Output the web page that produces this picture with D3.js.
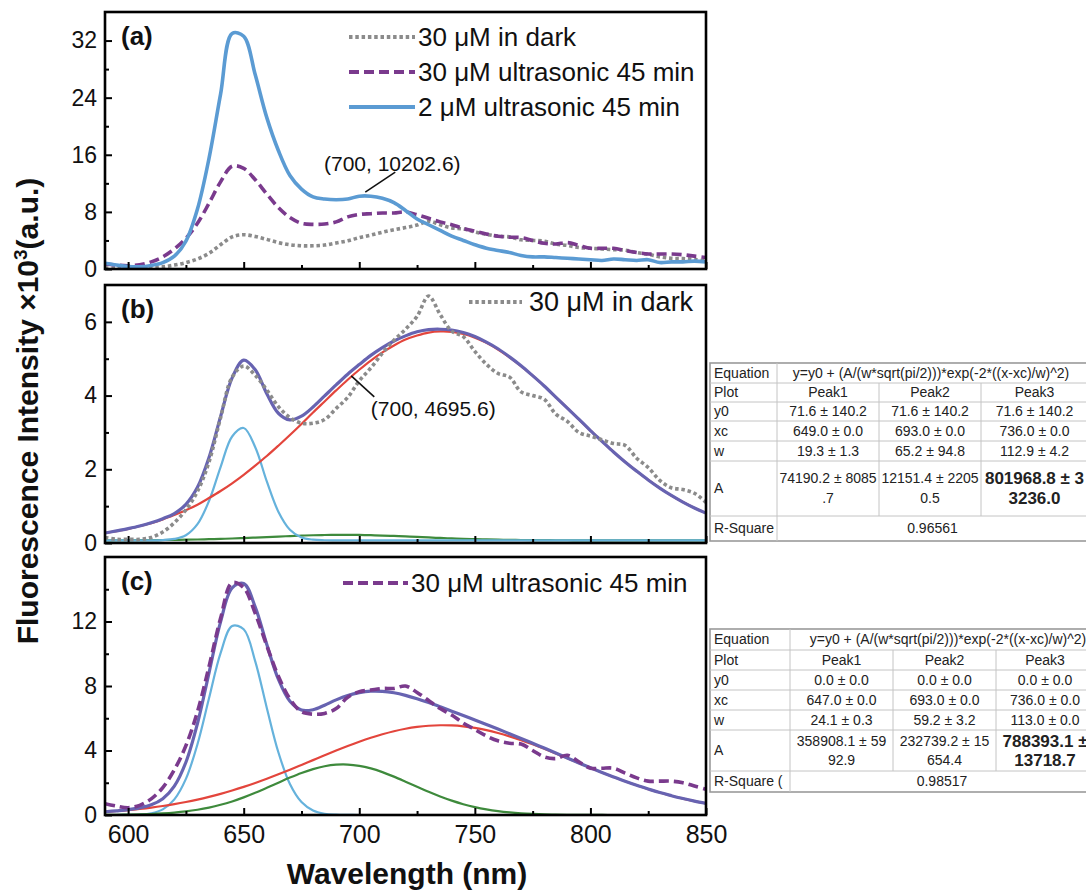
<!DOCTYPE html>
<html><head><meta charset="utf-8">
<script src="https://cdn.jsdelivr.net/npm/d3@7"></script>
<style>
body{margin:0;background:#fff;}
svg{display:block;font-family:"Liberation Sans",Arial,Helvetica,sans-serif;}
</style></head><body>
<svg id="chart" width="1086" height="892"></svg>
<script>
// ---------------- DATA ----------------
const wl = [590,595,600,605,610,615,620,625,630,635,640,645,650,655,660,665,670,675,680,685,690,695,700,705,710,715,720,725,730,735,740,745,750,755,760,765,770,775,780,785,790,795,800,805,810,815,820,825,830,835,840,845,850];

// measured spectra (x10^3 a.u.)
const dark30 = [0.15,0.10,0.10,0.10,0.15,0.30,0.55,0.90,1.40,2.20,3.40,4.50,4.80,4.55,4.15,3.70,3.40,3.25,3.25,3.35,3.65,3.95,4.40,4.75,5.15,5.50,5.80,6.15,6.70,6.20,5.75,5.60,5.20,4.85,4.60,4.50,4.10,4.00,3.90,3.50,3.30,3.00,2.90,2.80,2.70,2.65,2.30,2.05,1.70,1.50,1.45,1.35,1.10];
const ultra30 = [0.70,0.55,0.45,0.60,1.00,1.70,2.80,4.30,6.40,9.20,12.20,14.40,14.10,12.50,10.50,8.60,7.20,6.40,6.25,6.30,6.60,7.30,7.65,7.75,7.85,7.85,8.00,7.60,7.10,6.60,6.20,5.70,5.30,4.90,4.60,4.45,4.40,4.00,3.60,3.50,3.70,3.30,2.90,2.90,2.90,2.60,2.30,2.10,2.10,2.10,2.00,1.80,1.60];
const ultra2 = [0.80,0.55,0.35,0.30,0.50,0.90,1.80,3.90,8.40,15.50,24.50,33.00,32.60,27.20,21.20,16.60,13.10,11.20,10.10,9.80,9.70,9.80,10.20,10.20,9.90,9.30,8.20,7.00,6.20,5.40,4.60,4.00,3.40,2.90,2.60,2.30,1.90,1.70,1.70,1.60,1.50,1.40,1.30,1.20,1.40,1.30,1.20,1.30,0.90,1.00,1.00,1.10,1.00];

// fitted curves
const fitB_cum = [0.27,0.33,0.39,0.46,0.55,0.66,0.80,1.05,1.51,2.32,3.43,4.48,4.96,4.70,4.05,3.52,3.34,3.44,3.69,3.99,4.29,4.58,4.84,5.09,5.30,5.48,5.62,5.73,5.79,5.80,5.78,5.71,5.60,5.45,5.27,5.05,4.81,4.54,4.26,3.96,3.66,3.36,3.05,2.76,2.47,2.20,1.95,1.71,1.49,1.29,1.11,0.95,0.81];
const fitB_p1 = [0.07,0.07,0.07,0.07,0.07,0.08,0.11,0.21,0.51,1.14,2.06,2.89,3.12,2.60,1.67,0.85,0.36,0.15,0.09,0.075,0.07,0.07,0.07,0.07,0.07,0.07,0.07,0.07,0.07,0.07,0.07,0.07,0.07,0.07,0.07,0.07,0.07,0.07,0.07,0.07,0.07,0.07,0.07,0.07,0.07,0.07,0.07,0.07,0.07,0.07,0.07,0.07,0.07];
const fitB_p2 = [0.073,0.074,0.075,0.076,0.078,0.081,0.084,0.089,0.095,0.103,0.112,0.122,0.134,0.148,0.161,0.175,0.188,0.200,0.210,0.217,0.220,0.221,0.218,0.211,0.202,0.191,0.178,0.164,0.150,0.137,0.125,0.114,0.104,0.096,0.090,0.085,0.081,0.078,0.076,0.075,0.074,0.073,0.072,0.072,0.072,0.072,0.072,0.072,0.072,0.072,0.072,0.072,0.072];
const fitB_p3 = [0.27,0.32,0.38,0.46,0.54,0.64,0.76,0.89,1.04,1.22,1.41,1.62,1.85,2.10,2.36,2.64,2.93,3.23,3.54,3.84,4.14,4.43,4.70,4.95,5.17,5.36,5.52,5.63,5.71,5.74,5.73,5.67,5.57,5.43,5.25,5.04,4.80,4.54,4.26,3.96,3.66,3.35,3.05,2.76,2.47,2.20,1.95,1.71,1.49,1.29,1.11,0.95,0.81];

// fitted curves
const fitC_cum = [0.20,0.26,0.33,0.44,0.63,1.01,1.79,3.27,5.67,8.82,11.98,14.08,14.36,12.90,10.57,8.42,7.05,6.51,6.53,6.81,7.14,7.41,7.59,7.68,7.67,7.58,7.42,7.21,6.97,6.71,6.44,6.17,5.89,5.61,5.33,5.04,4.75,4.45,4.15,3.85,3.54,3.23,2.93,2.64,2.36,2.09,1.84,1.61,1.39,1.20,1.02,0.86,0.72];
const fitC_p1 = [0,0,0.01,0.03,0.11,0.35,0.97,2.24,4.39,7.24,10.04,11.72,11.52,9.53,6.64,3.89,1.92,0.80,0.28,0.08,0.02,0.005,0,0,0,0,0,0,0,0,0,0,0,0,0,0,0,0,0,0,0,0,0,0,0,0,0,0,0,0,0,0,0];
const fitC_p2 = [0.007,0.013,0.023,0.038,0.062,0.098,0.150,0.224,0.326,0.460,0.632,0.842,1.092,1.376,1.685,2.005,2.319,2.607,2.848,3.024,3.121,3.130,3.050,2.889,2.660,2.380,2.069,1.748,1.436,1.146,0.889,0.670,0.491,0.350,0.242,0.163,0.106,0.068,0.042,0.025,0.015,0.008,0.005,0.002,0.001,0,0,0,0,0,0,0,0];
const fitC_p3 = [0.196,0.247,0.305,0.377,0.461,0.560,0.674,0.805,0.955,1.124,1.311,1.518,1.744,1.989,2.249,2.524,2.810,3.106,3.404,3.702,3.995,4.277,4.543,4.788,5.006,5.195,5.348,5.462,5.536,5.565,5.553,5.497,5.398,5.261,5.086,4.879,4.644,4.386,4.109,3.820,3.523,3.224,2.928,2.638,2.357,2.091,1.840,1.607,1.392,1.196,1.019,0.863,0.724];

// ticks
const xMajor = [600,650,700,750,800,850];
const xMinor = [625,675,725,775,825];
const yMajorA = [0,8,16,24,32], yMinorA = [4,12,20,28];
const yMajorB = [0,2,4,6],      yMinorB = [1,3,5];
const yMajorC = [0,4,8,12],     yMinorC = [2,6,10,14];

// legend labels
const legendA = ["30 \u03bcM in dark","30 \u03bcM ultrasonic 45 min","2 \u03bcM ultrasonic 45 min"];
const legendB = ["30 \u03bcM in dark"];
const legendC = ["30 \u03bcM ultrasonic 45 min"];

// annotations
const annoA = {x:700, y:10.2026, text:"(700, 10202.6)"};
const annoB = {x:700, y:4.6956, text:"(700, 4695.6)"};

// fit tables
const tblRows = ["Equation","Plot","y0","xc","w","A"];
const tblEquation = "y=y0 + (A/(w*sqrt(pi/2)))*exp(-2*((x-xc)/w)^2)";
const tblPlot = ["Peak1","Peak2","Peak3"];
const tblB_y0 = ["71.6 \u00b1 140.2","71.6 \u00b1 140.2","71.6 \u00b1 140.2"];
const tblB_xc = ["649.0 \u00b1 0.0","693.0 \u00b1 0.0","736.0 \u00b1 0.0"];
const tblB_w  = ["19.3 \u00b1 1.3","65.2 \u00b1 94.8","112.9 \u00b1 4.2"];
const tblB_A  = [["74190.2 \u00b1 8085",".7"],["12151.4 \u00b1 2205","0.5"],["801968.8 \u00b1 3","3236.0"]];
const tblB_R2 = ["R-Square","0.96561"];
const tblC_y0 = ["0.0 \u00b1 0.0","0.0 \u00b1 0.0","0.0 \u00b1 0.0"];
const tblC_xc = ["647.0 \u00b1 0.0","693.0 \u00b1 0.0","736.0 \u00b1 0.0"];
const tblC_w  = ["24.1 \u00b1 0.3","59.2 \u00b1 3.2","113.0 \u00b1 0.0"];
const tblC_A  = [["358908.1 \u00b1 59","92.9"],["232739.2 \u00b1 15","654.4"],["788393.1 \u00b1","13718.7"]];
const tblC_R2 = ["R-Square (","0.98517"];

// ---------------- LAYOUT / STYLE ----------------
const svg = d3.select("#chart");
const X0 = 105, X1 = 706;
const x = d3.scaleLinear().domain([590,850]).range([X0,X1]);

const styles = {
  dark:  {stroke:"#8b8b8b", w:3.6, dash:"3.5,2.8"},
  ultra: {stroke:"#7a3a8d", w:3.6, dash:"10,5"},
  blue2: {stroke:"#5b9bd3", w:3.6, dash:null},
  cum:   {stroke:"#6763b1", w:3.2, dash:null},
  p1:    {stroke:"#65b2dc", w:2.2, dash:null},
  p2:    {stroke:"#3e8a3c", w:2.2, dash:null},
  p3:    {stroke:"#e3453c", w:2.2, dash:null}
};

const panels = [
  {key:"a", top:12,  bottom:269, ymax:36, major:yMajorA, minor:yMinorA, label:"(a)",
   series:[["dark",dark30],["ultra",ultra30],["blue2",ultra2]], xlabels:false},
  {key:"b", top:285, bottom:543, ymax:7,  major:yMajorB, minor:yMinorB, label:"(b)",
   series:[["p2",fitB_p2],["p1",fitB_p1],["p3",fitB_p3],["cum",fitB_cum],["dark",dark30]], xlabels:false},
  {key:"c", top:557, bottom:815, ymax:16, major:yMajorC, minor:yMinorC, label:"(c)",
   series:[["p1",fitC_p1],["p2",fitC_p2],["p3",fitC_p3],["cum",fitC_cum],["ultra",ultra30]], xlabels:true}
];

panels.forEach(p => {
  const y = d3.scaleLinear().domain([0,p.ymax]).range([p.bottom,p.top]);
  p.y = y;
  const g = svg.append("g");
  g.append("clipPath").attr("id","clip"+p.key).append("rect")
    .attr("x",X0).attr("y",p.top).attr("width",X1-X0).attr("height",p.bottom-p.top);
  const line = d3.line().x((d,i)=>x(wl[i])).y(d=>y(d)).curve(d3.curveCatmullRom.alpha(0.5));
  const lg = g.append("g").attr("clip-path","url(#clip"+p.key+")");
  p.series.forEach(([k,arr]) => {
    const s = styles[k];
    lg.append("path").datum(arr).attr("d",line).attr("fill","none")
      .attr("stroke",s.stroke).attr("stroke-width",s.w)
      .attr("stroke-dasharray",s.dash).attr("stroke-linejoin","round");
  });
  const ya = g.append("g").attr("transform",`translate(${X0},0)`)
    .call(d3.axisLeft(y).tickValues(p.major).tickSizeInner(-7).tickSizeOuter(0).tickPadding(8).tickFormat(d3.format("d")));
  ya.select(".domain").remove();
  ya.selectAll("line").attr("stroke","#000").attr("stroke-width",2);
  ya.selectAll("text").attr("font-size",23).attr("fill","#111").attr("font-family","Liberation Sans, Arial, sans-serif");
  const ym = g.append("g").attr("transform",`translate(${X0},0)`)
    .call(d3.axisLeft(y).tickValues(p.minor).tickSizeInner(-4).tickSizeOuter(0).tickFormat(""));
  ym.select(".domain").remove();
  ym.selectAll("line").attr("stroke","#000").attr("stroke-width",2);
  const xa = g.append("g").attr("transform",`translate(0,${p.bottom})`)
    .call(d3.axisBottom(x).tickValues(xMajor).tickSizeInner(-7).tickSizeOuter(0).tickPadding(10)
      .tickFormat(p.xlabels ? d3.format("d") : ""));
  xa.select(".domain").remove();
  xa.selectAll("line").attr("stroke","#000").attr("stroke-width",2);
  xa.selectAll("text").attr("font-size",25).attr("fill","#111").attr("font-family","Liberation Sans, Arial, sans-serif");
  const xm = g.append("g").attr("transform",`translate(0,${p.bottom})`)
    .call(d3.axisBottom(x).tickValues(xMinor).tickSizeInner(-4).tickSizeOuter(0).tickFormat(""));
  xm.select(".domain").remove();
  xm.selectAll("line").attr("stroke","#000").attr("stroke-width",2);
  g.append("rect").attr("x",X0).attr("y",p.top).attr("width",X1-X0).attr("height",p.bottom-p.top)
    .attr("fill","none").attr("stroke","#000").attr("stroke-width",2.6);
  g.append("text").attr("x",X0+16).attr("y",p.top+33).attr("font-size",26).attr("font-weight","bold")
    .attr("fill","#111").text(p.label);
});

// legends
function drawLegend(labels, keys, x0, x1, xt, yc, dy, fs) {
  labels.forEach((lab,i) => {
    const s = styles[keys[i]];
    const yy = yc + i*(dy||0);
    svg.append("line").attr("x1",x0).attr("x2",x1).attr("y1",yy).attr("y2",yy)
      .attr("stroke",s.stroke).attr("stroke-width",s.w+0.4).attr("stroke-dasharray",s.dash);
    svg.append("text").attr("x",xt).attr("y",yy).attr("dy","0.35em").attr("font-size",fs||26)
      .attr("fill","#111").text(lab);
  });
}
drawLegend(legendA, ["dark","ultra","blue2"], 349, 415, 418, 37, 35, 26);
drawLegend(legendB, ["dark"], 469, 522, 529, 302, 0, 27);
drawLegend(legendC, ["ultra"], 343, 408, 411, 583, 0, 26);

// annotations
function drawAnno(a, y, l0, l1, t) {
  const px = x(a.x), py = y(a.y);
  svg.append("line").attr("x1",px+l0[0]).attr("y1",py+l0[1]).attr("x2",px+l1[0]).attr("y2",py+l1[1])
    .attr("stroke","#111").attr("stroke-width",1.6);
  svg.append("text").attr("x",px+t[0]).attr("y",py+t[1]).attr("dy","0.35em").attr("text-anchor","middle")
    .attr("font-size",21).attr("fill","#111").text(a.text);
}
drawAnno(annoA, panels[0].y, [6,-4], [36,-24], [33,-33]);
drawAnno(annoB, panels[1].y, [-8,6], [15,27], [74,39]);

// axis titles
svg.append("text").attr("x",407).attr("y",884).attr("text-anchor","middle")
  .attr("font-size",30).attr("font-weight","bold").attr("fill","#111").text("Wavelength (nm)");
const yt = svg.append("text").attr("transform","translate(38,411) rotate(-90)").attr("text-anchor","middle")
  .attr("font-size",30).attr("font-weight","bold").attr("fill","#111");
yt.append("tspan").text("Fluorescence Intensity \u00d710");
yt.append("tspan").attr("dy",-11).attr("font-size",19).text("3");
yt.append("tspan").attr("dy",11).text("(a.u.)");

// tables
function drawTable(cols, rows, y0v, xcv, wv, Av, R2, eqCenter, lineGap) {
  const g = svg.append("g");
  const top = rows[0], bot = rows[rows.length-1];
  g.append("rect").attr("x",cols[0]).attr("y",top).attr("width",cols[cols.length-1]-cols[0]).attr("height",bot-top)
    .attr("fill","#fff").attr("stroke","#9a9a9a").attr("stroke-width",1.6);
  rows.slice(1,-1).forEach(r => g.append("line").attr("x1",cols[0]).attr("x2",cols[cols.length-1])
    .attr("y1",r).attr("y2",r).attr("stroke","#c4c4c4").attr("stroke-width",1));
  g.append("line").attr("x1",cols[1]).attr("x2",cols[1]).attr("y1",top).attr("y2",bot).attr("stroke","#c4c4c4");
  [2,3].forEach(c => g.append("line").attr("x1",cols[c]).attr("x2",cols[c]).attr("y1",rows[1]).attr("y2",rows[6])
    .attr("stroke","#c4c4c4"));
  const cy = i => (rows[i]+rows[i+1])/2;
  const labels = tblRows.concat([R2[0]]);
  labels.forEach((lab,i) => g.append("text").attr("x",cols[0]+4).attr("y",cy(i)).attr("dy","0.35em")
    .attr("font-size",14).attr("fill","#222").text(lab));
  g.append("text").attr("x",eqCenter).attr("y",cy(0)).attr("dy","0.35em").attr("text-anchor","middle")
    .attr("font-size",14).attr("fill","#222").text(tblEquation);
  const cc = c => (cols[c+1]+cols[c+2])/2;
  [tblPlot, y0v, xcv, wv].forEach((arr,ri) => arr.forEach((t,c) =>
    g.append("text").attr("x",cc(c)).attr("y",cy(ri+1)).attr("dy","0.35em").attr("text-anchor","middle")
      .attr("font-size",14).attr("fill","#222").text(t)));
  Av.forEach((pair,c) => {
    const bold = c===2;
    pair.forEach((t,li) => g.append("text").attr("x",cc(c)).attr("y",cy(5)+(li-0.5)*lineGap).attr("dy","0.35em")
      .attr("text-anchor","middle").attr("font-size",bold?17:14).attr("font-weight",bold?"bold":"normal")
      .attr("fill","#222").text(t));
  });
  g.append("text").attr("x",(cols[1]+cols[4])/2).attr("y",cy(6)).attr("dy","0.35em").attr("text-anchor","middle")
    .attr("font-size",14).attr("fill","#222").text(R2[1]);
}
drawTable([710,777,879,981,1088],[363,383,402,421,441,461,516,541], tblB_y0, tblB_xc, tblB_w, tblB_A, tblB_R2, 931, 20);
drawTable([710,790,893,996,1094],[629,650,670,690,710,730,771,792], tblC_y0, tblC_xc, tblC_w, tblC_A, tblC_R2, 948, 19);
</script>
</body></html>
